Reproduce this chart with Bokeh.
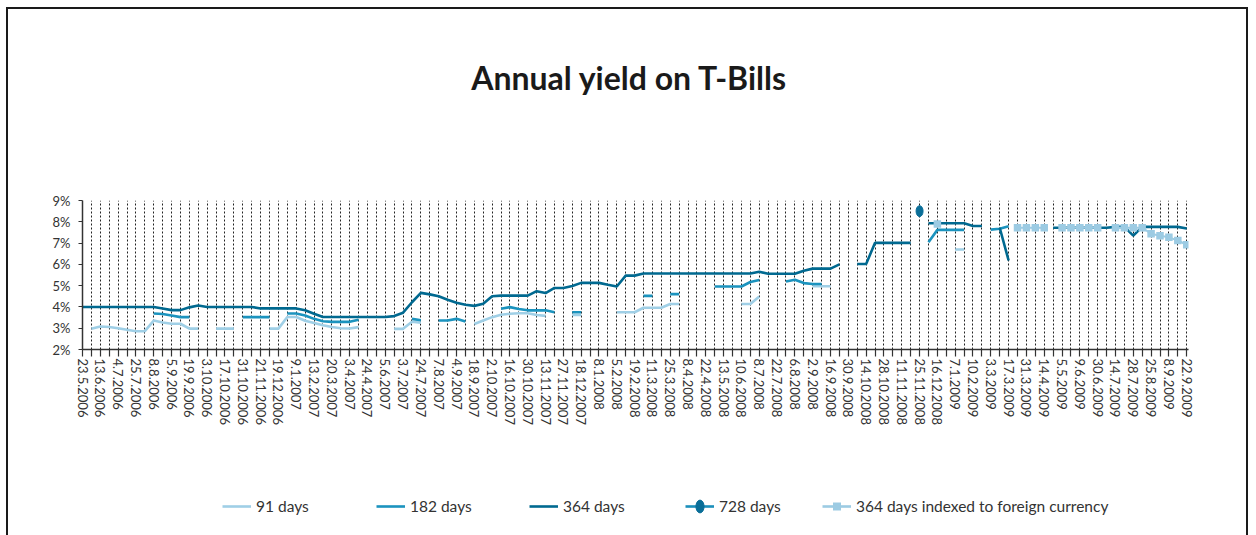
from bokeh.plotting import figure
from bokeh.layouts import column
from bokeh.models import (Range1d, FixedTicker, Legend, LegendItem, Label,
                          PrintfTickFormatter, ColumnDataSource)
from bokeh.embed import file_html
from bokeh.resources import INLINE

N = None
# tick labels (every second auction date)
date_labels = ["23.5.2006", "13.6.2006", "4.7.2006", "25.7.2006", "8.8.2006", "5.9.2006",
               "19.9.2006", "3.10.2006", "17.10.2006", "31.10.2006", "21.11.2006", "19.12.2006",
               "9.1.2007", "13.2.2007", "20.3.2007", "3.4.2007", "24.4.2007", "5.6.2007",
               "3.7.2007", "24.7.2007", "7.8.2007", "4.9.2007", "18.9.2007", "2.10.2007",
               "16.10.2007", "30.10.2007", "13.11.2007", "27.11.2007", "18.12.2007", "8.1.2008",
               "5.2.2008", "19.2.2008", "11.3.2008", "25.3.2008", "8.4.2008", "22.4.2008",
               "13.5.2008", "10.6.2008", "8.7.2008", "22.7.2008", "6.8.2008", "2.9.2008",
               "16.9.2008", "30.9.2008", "14.10.2008", "28.10.2008", "11.11.2008", "25.11.2008",
               "16.12.2008", "7.1.2009", "10.2.2009", "3.3.2009", "17.3.2009", "31.3.2009",
               "14.4.2009", "5.5.2009", "9.6.2009", "30.6.2009", "14.7.2009", "28.7.2009",
               "25.8.2009", "8.9.2009", "22.9.2009"]

# yields in %, one value per auction (125 auctions), None = no auction
y91 = [N, 2.97, 3.08, 3.06, 3.0, 2.93, 2.86, 2.86, 3.36, 3.27,
       3.21, 3.21, 2.98, 2.98, N, 2.98, 2.98, 2.98, N, N,
       N, 2.98, 2.98, 3.53, 3.53, 3.35, 3.24, 3.14, 3.06, 3.0,
       2.99, 3.05, N, N, N, 2.97, 2.97, 3.3, 3.26, N,
       N, N, N, N, 3.2, 3.36, 3.52, 3.63, 3.68, 3.7,
       3.7, 3.62, 3.58, N, N, 3.62, 3.62, N, N, N,
       3.75, 3.75, 3.75, 3.96, 3.96, 3.96, 4.14, 4.14, N, N,
       N, N, N, N, 4.14, 4.14, 4.49, N, N, N,
       N, N, 4.97, 4.97, 4.97, N, N, N, N, N,
       N, N, N, N, N, N, N, N, 6.7, 6.7,
       N, N, N, N, N, N, N, N, N, N,
       N, N, N, N, N, N, N, N, N, N,
       N, N, N, N, N]

y182 = [N, N, N, N, N, N, N, N, 3.69, 3.67,
        3.6, 3.52, 3.52, N, N, N, N, N, 3.52, 3.52,
        3.52, 3.52, N, 3.69, 3.69, 3.6, 3.44, 3.33, 3.3, 3.3,
        3.3, 3.4, N, N, N, N, N, 3.44, 3.37, N,
        3.36, 3.36, 3.44, 3.31, N, N, N, 3.91, 3.99, 3.9,
        3.84, 3.84, 3.84, 3.75, N, 3.75, 3.75, N, N, N,
        N, N, N, 4.52, 4.52, N, 4.6, 4.6, N, N,
        N, 4.96, 4.96, 4.96, 4.96, 5.17, 5.27, N, N, 5.19,
        5.28, 5.12, 5.08, 5.08, N, N, N, N, N, N,
        N, N, N, N, N, 7.04, 7.62, 7.62, 7.62, 7.62,
        N, N, 7.63, 7.67, 7.79, N, N, N, N, N,
        N, N, N, N, N, N, N, N, N, N,
        N, N, N, N, N]

y364 = [4.0, 4.0, 4.0, 4.0, 4.0, 4.0, 4.0, 4.0, 4.0, 3.93,
        3.85, 3.85, 3.98, 4.07, 4.0, 4.0, 4.0, 4.0, 4.0, 4.0,
        3.93, 3.93, 3.93, 3.93, 3.93, 3.84, 3.68, 3.53, 3.53, 3.53,
        3.53, 3.53, 3.53, 3.53, 3.53, 3.57, 3.73, 4.22, 4.66, 4.59,
        4.5, 4.34, 4.2, 4.1, 4.05, 4.15, 4.5, 4.53, 4.53, 4.53,
        4.53, 4.74, 4.65, 4.89, 4.89, 4.98, 5.13, 5.13, 5.13, 5.04,
        4.96, 5.47, 5.47, 5.57, 5.57, 5.57, 5.57, 5.57, 5.57, 5.57,
        5.57, 5.57, 5.57, 5.57, 5.57, 5.57, 5.65, 5.56, 5.56, 5.56,
        5.56, 5.7, 5.8, 5.8, 5.8, 6.0, N, 6.02, 6.02, 7.01,
        7.01, 7.01, 7.01, 7.01, N, 7.93, 7.93, 7.93, 7.93, 7.93,
        7.8, 7.8, N, 7.72, 6.18, N, N, N, N, 7.72,
        7.72, 7.72, 7.72, 7.72, 7.72, 7.72, 7.76, 7.76, 7.35, 7.76,
        7.76, 7.76, 7.76, 7.76, 7.68]

y728 = [N] * 94 + [8.5] + [N] * 30

y364fx = [N] * 96 + [7.9] + [N] * 8 + [7.72, 7.72, 7.72, 7.72, N,
          7.72, 7.72, 7.72, 7.72, 7.72, N, 7.72, 7.72, 7.72, 7.72,
          7.44, 7.34, 7.27, 7.12, 6.92]

series_names = ["91 days", "182 days", "364 days", "728 days",
                "364 days indexed to foreign currency"]
title_text = "Annual yield on T-Bills"

n = len(y364)
xs = list(range(n))


def clean(v):
    return [float("nan") if a is None else a for a in v]


C91, C182, C364, C728, C728D, CFX = "#9fcfe6", "#1b93be", "#006990", "#1b8fbb", "#0a6e98", "#9ccbe3"
FONT = "Lato"
TXT = "#333333"
W = 1238
FW = 1106  # width of the aligned plot frame


def bare(h):
    f = figure(width=W, height=h, output_backend="svg", toolbar_location=None,
               x_range=Range1d(0, FW), y_range=Range1d(0, h),
               x_axis_location=None, y_axis_location=None,
               min_border=0, min_border_left=0, min_border_right=0,
               min_border_top=0, min_border_bottom=0)
    f.grid.visible = False
    f.outline_line_color = None
    f.background_fill_color = "white"
    f.border_fill_color = "white"
    return f


# ---- title strip
tf = bare(141)
tf.add_layout(Label(x=547, y=73, text=title_text, text_align="center", text_baseline="middle",
                    text_font=FONT, text_font_size="32px", text_font_style="bold",
                    text_color="#1a1a1a"))

# ---- main chart
p = figure(width=W, height=290, output_backend="svg", toolbar_location=None,
           x_range=Range1d(0, 124.2), y_range=Range1d(2, 9),
           min_border_left=74, min_border_right=58, min_border_top=50, min_border_bottom=91)
p.outline_line_color = None
p.background_fill_color = "white"
p.border_fill_color = "white"

p.xaxis.ticker = FixedTicker(ticks=list(range(0, n, 2)), minor_ticks=list(range(1, n, 2)))
p.xaxis.major_label_overrides = {2 * i: lab for i, lab in enumerate(date_labels)}
p.xaxis.major_label_orientation = "vertical"
p.xaxis.major_label_text_font = FONT
p.xaxis.major_label_text_font_size = "13px"
p.xaxis.major_label_text_color = TXT
p.xaxis.major_label_standoff = 2
p.xaxis.axis_line_color = "#333333"
p.xaxis.axis_line_width = 1.5
p.xaxis.major_tick_in = 0
p.xaxis.major_tick_out = 7
p.xaxis.minor_tick_in = 0
p.xaxis.minor_tick_out = 7
p.xaxis.major_tick_line_color = "#333333"
p.xaxis.minor_tick_line_color = "#333333"
p.xaxis.major_tick_line_width = 1.2
p.xaxis.minor_tick_line_width = 1.2

p.yaxis.ticker = FixedTicker(ticks=list(range(2, 10)))
p.yaxis.formatter = PrintfTickFormatter(format="%d%%")
p.yaxis.major_label_text_font = FONT
p.yaxis.major_label_text_font_size = "13px"
p.yaxis.major_label_text_color = TXT
p.yaxis.major_label_standoff = 8
p.yaxis.axis_line_color = "#333333"
p.yaxis.axis_line_width = 1.5
p.yaxis.major_tick_in = 0
p.yaxis.major_tick_out = 4
p.yaxis.major_tick_line_color = "#333333"
p.yaxis.minor_tick_line_color = None

p.ygrid.grid_line_color = None
p.xgrid.ticker = FixedTicker(ticks=list(range(1, n)))
p.xgrid.grid_line_color = "#222222"
p.xgrid.grid_line_dash = "2 2"
p.xgrid.grid_line_width = 1

src = ColumnDataSource(dict(x=xs, y91=clean(y91), y182=clean(y182), y364=clean(y364),
                            y728=clean(y728), yfx=clean(y364fx)))

p.line("x", "y91", source=src, line_color=C91, line_width=2.6)
p.line("x", "y182", source=src, line_color=C182, line_width=2.6)
p.line("x", "y364", source=src, line_color=C364, line_width=2.6)
p.line("x", "yfx", source=src, line_color=CFX, line_width=2)
p.scatter("x", "yfx", source=src, marker="square", size=7.5, fill_color=CFX, line_color=None)
p.ellipse("x", "y728", source=src, width=7, height=11, width_units="screen",
          height_units="screen", fill_color=C728D, line_color=C728D)

# ---- legend strip (legend sample glyphs drawn off-range)
lf = bare(95)
d = ColumnDataSource(dict(x=[-1000.0], y=[-1000.0]))
l91 = lf.line("x", "y", source=d, line_color=C91, line_width=2.6)
l182 = lf.line("x", "y", source=d, line_color=C182, line_width=2.6)
l364 = lf.line("x", "y", source=d, line_color=C364, line_width=2.6)
l728 = lf.line("x", "y", source=d, line_color=C728, line_width=2.6)
m728 = lf.ellipse("x", "y", source=d, width=7, height=11, width_units="screen",
                  height_units="screen", fill_color=C728D, line_color=C728D)
lfx = lf.line("x", "y", source=d, line_color=CFX, line_width=2.6)
mfx = lf.scatter("x", "y", source=d, marker="square", size=8, fill_color=CFX, line_color=None)

groups = [[l91], [l182], [l364], [l728, m728], [lfx, mfx]]
xoffs = [140, 294, 447, 603, 740]
gheights = [18, 18, 18, 16, 20]
for name, rends, xo, gh in zip(series_names, groups, xoffs, gheights):
    item_h = max(gh, 18)
    lg = Legend(items=[LegendItem(label=name, renderers=rends)],
                location=(xo, 20 - (item_h - 18) / 2),
                orientation="horizontal", padding=0, margin=0, glyph_width=29,
                glyph_height=gh, label_height=18, label_standoff=5,
                border_line_color=None, background_fill_alpha=0,
                label_text_font=FONT, label_text_font_size="15.5px", label_text_color=TXT)
    lf.add_layout(lg, "center")

page = column(tf, p, lf, spacing=0,
              styles={"margin-left": "6px", "margin-top": "7px",
                      "border-left": "2px solid #1a1a1a", "border-top": "2px solid #1a1a1a",
                      "border-right": "2px solid #1a1a1a"})

open("out.html", "w").write(file_html(page, INLINE))
